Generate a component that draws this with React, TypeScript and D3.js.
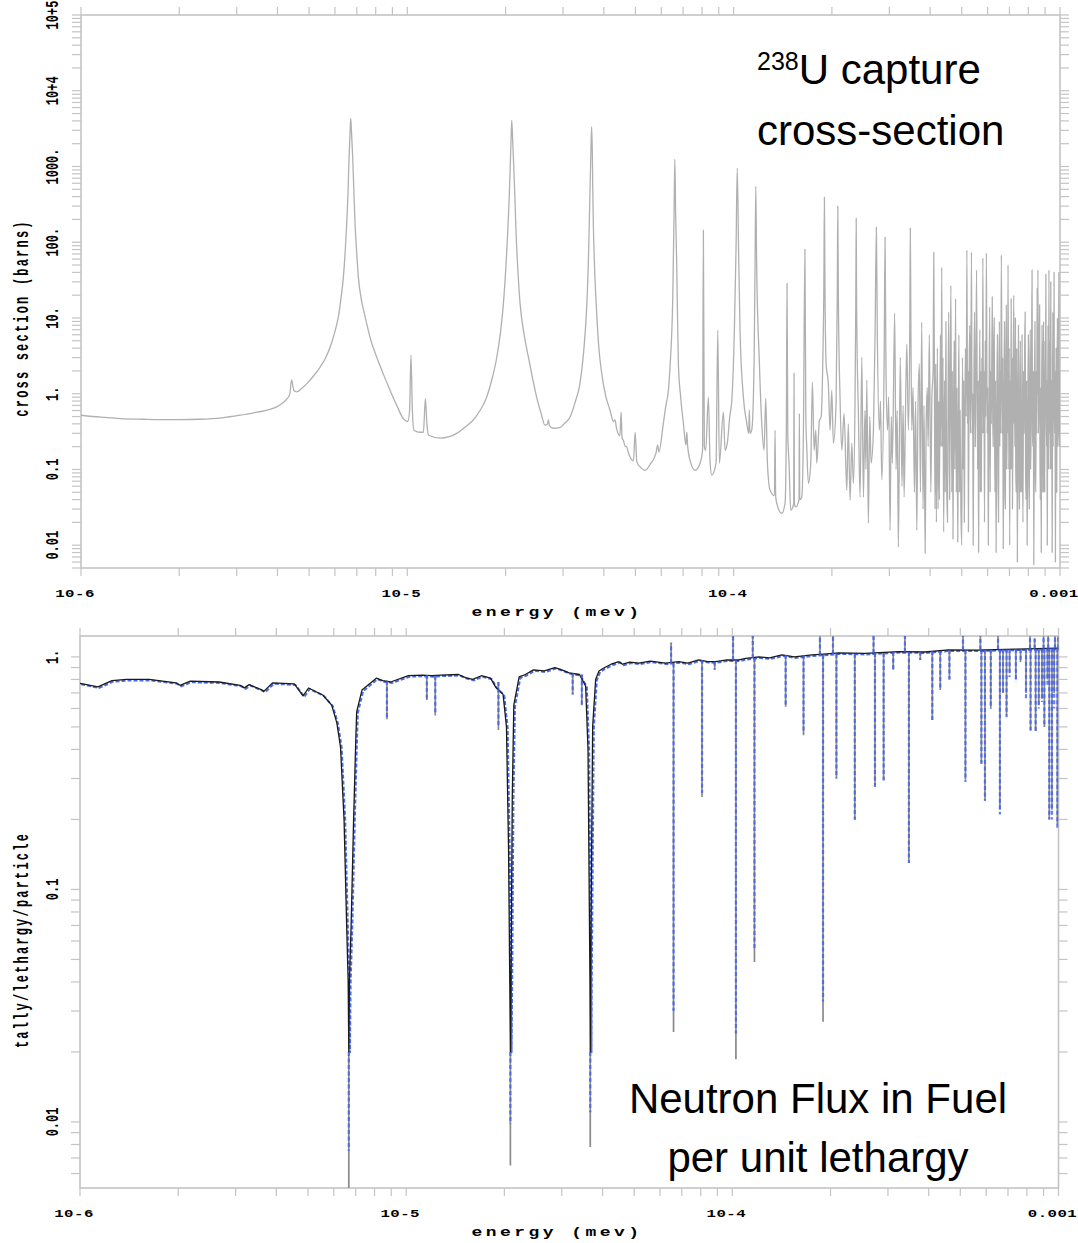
import * as d3 from "d3";
import React, { useEffect, useRef } from "react";

// U-238 capture cross-section, energy in eV (axis is in MeV), sigma in barns
const xsLow: [number, number][] = [
  [1.0, 0.52], [1.15, 0.49], [1.32, 0.47], [1.55, 0.46], [1.75, 0.455], [2.0, 0.455], [2.32, 0.46],
  [2.7, 0.48], [3.07, 0.52], [3.45, 0.57], [3.8, 0.62], [4.05, 0.7], [4.25, 0.83], [4.36, 0.98],
  [4.42, 1.52], [4.49, 1.1], [4.58, 1.06], [4.75, 1.18], [4.92, 1.36], [5.15, 1.7], [5.4, 2.23],
  [5.6, 2.9], [5.8, 4.1], [5.98, 6.3], [6.15, 10.5], [6.27, 19], [6.37, 34.9], [6.45, 75],
  [6.52, 177], [6.58, 450], [6.63, 1343], [6.68, 3000], [6.707, 4300], [6.74, 3000], [6.8, 1343],
  [6.86, 450], [6.915, 177], [7.0, 70], [7.077, 34.9], [7.22, 18], [7.42, 10.5], [7.72, 5.2],
  [8.06, 3.03], [8.45, 1.8], [8.85, 1.11], [9.28, 0.7], [9.72, 0.47], [10.03, 0.43], [10.16, 0.6],
  [10.26, 3.23], [10.36, 0.6], [10.48, 0.33], [10.94, 0.31], [11.2, 0.31], [11.36, 0.86],
  [11.48, 0.4], [11.63, 0.283], [12.6, 0.26], [14.17, 0.3], [15.0, 0.36], [15.9, 0.447],
  [16.7, 0.6], [17.5, 0.9], [18.2, 1.6], [18.8, 3.03], [19.3, 6.5], [19.7, 15.7], [20.05, 48],
  [20.3, 130], [20.5, 350], [20.64, 810], [20.77, 2000], [20.89, 4100], [21.05, 2000],
  [21.23, 810], [21.38, 350], [21.54, 130], [21.8, 45], [22.15, 15.7], [22.8, 6], [23.5, 3.03],
  [24.2, 1.6], [24.9, 0.9], [25.7, 0.55], [26.4, 0.384], [26.9, 0.4], [27.05, 0.45], [27.25, 0.38],
  [28.0, 0.35], [29.4, 0.36], [30.4, 0.41], [31.5, 0.49], [32.7, 0.78], [33.8, 1.36], [34.7, 3.6],
  [35.5, 15.7], [35.85, 50], [36.1, 177], [36.3, 520], [36.5, 1400], [36.7, 3350], [36.9, 1400],
  [37.0, 520], [37.15, 177], [37.45, 50], [37.9, 15.7], [38.6, 4.2], [39.4, 1.87], [40.5, 0.95],
  [41.8, 0.605], [42.8, 0.43], [43.3, 0.45], [43.7, 0.36], [44.8, 0.28], [45.2, 0.57], [45.5, 0.26],
  [45.9, 0.243], [46.6, 0.2], [47.0, 0.2], [47.5, 0.17], [49.3, 0.13], [49.9, 0.31], [50.5, 0.126],
  [52.0, 0.105], [53.5, 0.0976], [55.7, 0.12], [57.8, 0.164], [58.5, 0.21], [59.0, 0.17],
  [60.9, 0.41], [62.0, 0.7], [63.1, 1.11], [63.8, 2.2],
];

const xsMid: [number, number][] = [
  [65.07, 18.8], [65.66, 242], [66.03, 1252], [66.4, 242], [66.9, 53], [67.69, 2.53], [68.8, 0.9],
  [70.12, 0.41], [71.4, 0.21], [71.83, 0.31], [72.3, 0.2], [73.52, 0.132], [76.16, 0.0976],
  [78.9, 0.121], [80.3, 0.179], [80.75, 144], [81.3, 0.2], [82.1, 0.179], [83.65, 0.9],
  [84.7, 0.121], [85.7, 0.084], [88.3, 0.121], [89.4, 6.9], [90.4, 0.121], [92.98, 0.57],
  [94.1, 0.179], [95.6, 0.222], [97.3, 0.5], [98.7, 0.82], [100.5, 6.9], [101.7, 85],
  [102.56, 952], [103.5, 85], [104.6, 6.9], [107.1, 0.9], [109.7, 0.41], [111.2, 0.3],
  [111.7, 0.605], [112.2, 0.3], [113.6, 0.33], [115.5, 2.53], [116.3, 53], [116.9, 551],
  [117.6, 53], [119.9, 2.53], [121.9, 0.41], [123.9, 0.179], [125.4, 0.87], [126.9, 0.121],
  [129.3, 0.053], [133.3, 0.045], [133.9, 0.33], [134.5, 0.045], [135.5, 0.0358], [140.4, 0.0264],
  [143.7, 0.0358], [145.0, 0.33], [145.7, 28.8], [146.5, 0.3], [147.8, 0.121], [149.6, 0.0289],
  [152.7, 0.035], [153.1, 1.87], [153.5, 0.035], [155.0, 0.032], [158.6, 0.04], [159.0, 0.55],
  [159.4, 0.04], [161.7, 0.043], [163.6, 0.33], [165.3, 81], [166.4, 0.5], [167.5, 0.196],
  [169.4, 0.0657], [172.3, 0.121], [174.3, 1.42], [176.4, 0.179], [178.5, 0.33], [179.8, 0.121],
  [183.2, 0.447], [185.3, 0.49], [187.5, 2.53], [189.0, 30], [189.7, 394], [190.4, 30],
  [192.0, 2.53], [195.1, 1.31], [197.4, 0.33], [199.8, 1.11], [202.1, 0.222], [206.0, 0.75],
  [207.7, 20], [208.5, 300], [209.3, 20], [211.8, 0.9], [214.5, 0.179], [217.9, 0.55],
  [222.2, 0.053], [224.5, 0.4], [227.4, 0.0392], [230.1, 0.222], [232.8, 0.0657], [235.5, 0.9],
  [236.7, 15], [237.4, 208], [238.1, 15], [241.1, 0.55], [244.0, 0.043], [247.0, 3.03],
  [249.8, 0.043], [252.5, 0.6], [254.3, 0.1], [255.8, 1.51], [258.7, 0.0195], [261.2, 0.5],
  [263.7, 0.121], [268.1, 0.33], [271.3, 6.9], [273.7, 158], [275.5, 6.9], [279.6, 0.33],
  [281.8, 0.8], [284.4, 0.073], [289.1, 2.53], [291.0, 117], [292.8, 2.5], [296.0, 0.33],
  [298.5, 0.9], [301.5, 0.0157], [304.0, 0.5], [306.4, 0.121], [311.4, 11.6], [314.5, 0.1],
  [317.0, 0.6], [319.7, 0.0094], [324.0, 3.0], [328.0, 0.06], [330.5, 0.7], [332.9, 0.043],
  [336.0, 0.5], [339.2, 4.5], [343.1, 0.33], [346.5, 8], [347.8, 154], [349.2, 8], [351.4, 0.33],
  [354.5, 1.2], [358.0, 0.05], [361.0, 0.8], [364.0, 0.0157], [367.0, 0.6], [370.7, 2.5],
  [373.5, 0.05], [376.9, 8.8], [380.5, 0.03], [383.0, 0.7], [386.1, 0.0078], [389.0, 0.4],
  [392.0, 1.2], [394.5, 0.2], [397.6, 6], [402.0, 0.05], [405.0, 0.9], [408.5, 2], [410.3, 74],
  [412.2, 2],
];

const xsHigh: [number, number][] = [
  [414, 0.03], [416, 2.5], [418, 0.02], [421, 4], [423, 0.03], [425, 0.8], [427, 0.04], [430, 6],
  [432, 0.2], [434, 47], [436, 0.2], [438, 3], [440, 0.015], [443, 1.5], [445, 0.05], [447, 9],
  [449, 0.1], [452, 0.02], [454, 0.9], [456, 12], [459, 0.04], [461, 1.2], [463, 27], [466, 0.05],
  [468, 2], [470, 0.012], [472, 0.6], [474, 5], [476, 0.1], [478.6, 18], [481, 0.05], [483.5, 1.2],
  [486, 0.011], [488, 0.3], [490, 6], [492, 0.05], [494, 0.6], [497, 0.03], [500, 0.01],
  [502.5, 3], [505, 0.1], [507, 1.5], [509, 0.02], [511, 0.3], [513, 4], [516, 0.5], [518.4, 79],
  [521, 0.4], [522.5, 2], [524, 0.015], [526.5, 1.5], [529, 8], [532, 0.3], [535.4, 74],
  [538, 0.3], [540, 1], [542, 0.01], [544.5, 0.8], [547, 12], [550, 0.2], [552.5, 2], [555, 43],
  [559, 0.1], [561, 1.5], [563, 0.008], [565.5, 0.6], [568, 7], [570, 0.05], [572, 2], [574, 0.05],
  [576, 3], [578, 0.3], [580.2, 62], [583, 0.3], [585, 2], [587, 0.02], [590, 5], [592, 0.5],
  [595, 72], [598, 0.3], [600.5, 1.2], [603, 0.01], [606, 0.8], [609, 14], [611, 0.05], [613, 2],
  [616, 0.4], [620, 19], [622, 0.6], [624, 0.2], [626, 3], [628.5, 10], [630.5, 0.3], [632, 0.05],
  [634.5, 1.5], [637, 0.008], [640, 0.5], [643, 6], [645.5, 0.1], [648, 0.02], [650, 1], [652, 9],
  [654, 0.2], [656, 2], [658, 0.3], [661.2, 68], [665, 0.3], [667.5, 3], [670, 0.009], [673, 0.8],
  [676, 9], [678, 0.05], [680, 0.03], [682.5, 2], [685, 15], [687, 0.1], [689, 0.6], [691, 0.3],
  [693, 50], [697, 0.1], [699, 4], [701, 0.01], [704, 1.5], [706, 0.1], [708.4, 18], [710, 0.5],
  [712, 0.1], [713.5, 3], [715, 0.03], [718, 0.8], [721.7, 20], [723.5, 0.4], [725, 2],
  [727.5, 0.2], [730, 10], [732, 0.1], [734, 0.05], [737, 4], [740, 0.006], [743, 0.5], [746, 8],
  [748.5, 0.1], [751, 0.03], [753.5, 0.5], [756, 5], [758, 0.05], [760, 0.8], [762.5, 0.05],
  [765, 6], [767.5, 0.2], [770, 0.02], [773, 2], [776, 0.3], [779, 3], [782, 12], [784.5, 0.1],
  [787, 0.04], [790, 1.5], [793, 0.01], [796.5, 0.4], [800, 6], [802.5, 0.1], [805, 0.03],
  [808, 1.5], [811, 7], [813, 0.1], [815, 0.3], [818, 2], [821, 43], [823.5, 0.3], [826, 0.2],
  [828.5, 2], [831, 0.0055], [834.5, 0.6], [838, 9], [840.5, 0.1], [843, 0.05], [846, 2],
  [848.5, 0.3], [851, 25], [853, 1], [856, 43], [858, 0.3], [860, 0.5], [863, 2], [866, 15],
  [868, 0.2], [870, 0.04], [873, 1.2], [876, 0.008], [878.5, 0.8], [881, 8], [883.5, 0.3],
  [886, 0.05], [888.5, 2], [891, 9], [893.5, 0.05], [896, 0.3], [898, 0.05], [900, 5],
  [902.5, 0.5], [905, 38], [907.5, 0.5], [910, 0.2], [912, 1.5], [914, 0.01], [916.5, 0.5],
  [919, 8], [922, 0.1], [925, 43], [927.5, 0.3], [930, 5], [933.5, 0.1], [937, 30], [939, 0.5],
  [941, 0.1], [943.5, 1.5], [946, 0.008], [948.5, 0.5], [951, 12], [953, 0.2], [955, 3],
  [957, 0.5], [959, 40], [961, 0.8], [963, 0.3], [965.5, 2], [968, 0.006], [970.5, 0.5], [973, 4],
  [975, 0.1], [977, 0.05], [979.5, 1.5], [982, 10], [984.5, 0.2], [987, 0.4], [989.5, 3],
  [992, 40], [994, 0.5], [996, 0.2], [998, 2], [1000, 1],
];

// neutron flux per unit lethargy in the fuel (smooth part), energy in eV
const fluxLine: [number, number][] = [
  [1.0, 0.77], [1.135, 0.743], [1.253, 0.79], [1.388, 0.8], [1.63, 0.8], [1.97, 0.774],
  [2.025, 0.755], [2.18, 0.786], [2.67, 0.78], [3.1, 0.755], [3.19, 0.736], [3.3, 0.76],
  [3.61, 0.721], [3.66, 0.711], [3.9, 0.774], [4.54, 0.765], [4.83, 0.68], [5.02, 0.735],
  [5.55, 0.686], [5.91, 0.62], [6.13, 0.52], [6.29, 0.41], [6.45, 0.2], [6.57, 0.07],
  [6.64, 0.04], [6.67, 0.02], [6.7, 0.04], [6.78, 0.07], [6.9, 0.2], [7.0, 0.42], [7.05, 0.58],
  [7.32, 0.72], [8.1, 0.81], [8.48, 0.79], [8.96, 0.78], [10.16, 0.83], [11.24, 0.835],
  [11.97, 0.83], [12.75, 0.835], [14.47, 0.84], [15.2, 0.815], [16.0, 0.8], [17.0, 0.83],
  [18.14, 0.81], [18.83, 0.74], [19.82, 0.69], [20.3, 0.5], [20.6, 0.15], [20.78, 0.04],
  [20.87, 0.02], [20.96, 0.04], [21.15, 0.25], [21.38, 0.62], [22.2, 0.82], [23.2, 0.84],
  [24.55, 0.88], [26.5, 0.87], [28.56, 0.9], [30.0, 0.88], [31.6, 0.854], [34.0, 0.84],
  [35.5, 0.75], [36.1, 0.4], [36.45, 0.08], [36.6, 0.04], [36.68, 0.02], [36.76, 0.04],
  [36.95, 0.1], [37.3, 0.5], [38.1, 0.8], [39.0, 0.87], [40.6, 0.9], [42.5, 0.93], [44.9, 0.954],
  [46.1, 0.93], [48.5, 0.95], [51.7, 0.94], [56.0, 0.96], [62.4, 0.94], [68.5, 0.954],
  [73.0, 0.94], [78.9, 0.971], [84.0, 0.955], [88.8, 0.954], [96.3, 0.971], [104.6, 0.97],
  [110.0, 0.985], [120.5, 1.0], [130.0, 0.99], [142, 1.02], [155, 1.0], [175.5, 1.02],
  [195, 1.03], [211.9, 1.04], [255, 1.035], [323.6, 1.054], [390, 1.05], [460.5, 1.072],
  [560, 1.07], [737.3, 1.08], [860, 1.085], [1000, 1.09],
];

// narrow flux dips: energy (eV), level before dip, black minimum, blue minimum
const fluxDips: [number, number, number, number][] = [
  [6.67, 0.02, 0.004, 0.0075], [8.73, 0.79, 0.54, 0.55], [11.57, 0.835, 0.653, 0.66],
  [12.28, 0.83, 0.56, 0.57], [19.18, 0.78, 0.485, 0.5], [20.87, 0.02, 0.0065, 0.0098],
  [32.4, 0.85, 0.69, 0.69], [34.56, 0.84, 0.62, 0.62], [36.68, 0.02, 0.0078, 0.011],
  [66.03, 0.94, 0.0244, 0.03], [80.75, 0.97, 0.25, 0.26], [88.3, 0.954, 0.88, 0.88],
  [102.56, 0.97, 0.0186, 0.024], [116.9, 0.99, 0.0487, 0.055], [145.7, 1.02, 0.61, 0.62],
  [165.3, 1.02, 0.46, 0.47], [189.7, 1.02, 0.027, 0.033], [208.5, 1.03, 0.3, 0.3],
  [237.4, 1.03, 0.199, 0.2], [273.7, 1.04, 0.28, 0.27], [291, 1.04, 0.296, 0.29],
  [311.4, 1.05, 0.88, 0.88], [347.8, 1.05, 0.13, 0.13], [376.9, 1.055, 0.97, 0.97],
  [410.3, 1.06, 0.536, 0.53], [434, 1.06, 0.72, 0.72], [463, 1.07, 0.8, 0.8],
  [518.4, 1.07, 0.296, 0.29], [580.2, 1.075, 0.35, 0.34], [595, 1.075, 0.243, 0.24],
  [620, 1.075, 0.6, 0.6], [661.2, 1.08, 0.22, 0.21], [676, 1.08, 0.7, 0.7], [693, 1.08, 0.56, 0.55],
  [708, 1.08, 0.85, 0.82], [740, 1.08, 0.8, 0.78], [765, 1.08, 0.95, 0.95], [795, 1.085, 0.7, 0.66],
  [821, 1.085, 0.485, 0.48], [851, 1.085, 0.48, 0.47], [870, 1.085, 0.62, 0.6],
  [890, 1.085, 0.66, 0.64], [905, 1.085, 0.5, 0.5], [925, 1.09, 0.8, 0.75], [937, 1.09, 0.2, 0.2],
  [955, 1.09, 0.22, 0.2], [970, 1.09, 0.7, 0.6], [992, 1.09, 0.19, 0.18],
];

// flux overshoots just below resonances: energy (eV), level, top
const fluxPeaks: [number, number, number][] = [
  [64.9, 0.94, 1.15], [100.5, 0.97, 1.3], [115.5, 0.99, 1.3], [185.6, 1.02, 1.3],
  [203.5, 1.03, 1.3], [271, 1.04, 1.3], [338.2, 1.05, 1.3], [509.5, 1.07, 1.3], [576, 1.075, 1.3],
  [652.5, 1.08, 1.3], [817.8, 1.085, 1.3], [845, 1.085, 1.2], [900, 1.085, 1.3], [930, 1.09, 1.3],
  [975.7, 1.09, 1.3], [998, 1.09, 1.3],
];

const energyTicks = [1e-6, 1e-5, 1e-4, 1e-3];
const energyLabels = ["10-6", "10-5", "10-4", "0.001"];
const xsTicks = [0.01, 0.1, 1, 10, 100, 1000, 1e4, 1e5];
const xsLabels = ["0.01", "0.1", "1.", "10.", "100.", "1000.", "10+4", "10+5"];
const fluxTicks = [0.01, 0.1, 1];
const fluxLabels = ["0.01", "0.1", "1."];

const MONO = "'Liberation Mono', 'DejaVu Sans Mono', monospace";
const SANS = "'Liberation Sans', Arial, Helvetica, sans-serif";

export default function App() {
  const ref = useRef<SVGSVGElement>(null);

  useEffect(() => {
    const svg = d3.select(ref.current);
    svg.selectAll("*").remove();
    svg.append("rect").attr("width", 1078).attr("height", 1243).attr("fill", "#fff");

    const frameCol = "#c4c4c4";

    // draws frame, ticks and labels of one panel, returns its scales
    function panel(p: any) {
      const x = d3.scaleLog().domain([1e-6, 1e-3]).range([p.left, p.right]);
      const y = d3.scaleLog().domain(p.domain).range([p.bottom, p.top]);

      svg.append("clipPath").attr("id", p.id)
        .append("rect").attr("x", p.left).attr("y", p.top)
        .attr("width", p.right - p.left).attr("height", p.bottom - p.top);

      const g = svg.append("g");
      g.append("rect")
        .attr("x", p.left).attr("y", p.top)
        .attr("width", p.right - p.left).attr("height", p.bottom - p.top)
        .attr("fill", "none").attr("stroke", frameCol).attr("stroke-width", 1.6);

      const xt = x.ticks();
      const yt = y.ticks().filter((t) => t >= p.domain[0] && t <= p.domain[1]);
      const ticks = g.append("g").attr("stroke", frameCol).attr("stroke-width", 1.2);
      ticks.selectAll(".tt").data(xt).join("line")
        .attr("x1", (d) => x(d)).attr("x2", (d) => x(d)).attr("y1", p.top - 8).attr("y2", p.top);
      ticks.selectAll(".tb").data(xt).join("line")
        .attr("x1", (d) => x(d)).attr("x2", (d) => x(d)).attr("y1", p.bottom).attr("y2", p.bottom + 8);
      ticks.selectAll(".tl").data(yt).join("line")
        .attr("y1", (d) => y(d)).attr("y2", (d) => y(d)).attr("x1", p.left - 9).attr("x2", p.left);
      ticks.selectAll(".tr").data(yt).join("line")
        .attr("y1", (d) => y(d)).attr("y2", (d) => y(d)).attr("x1", p.right).attr("x2", p.right + 9);

      // energy tick labels (the plot is stretched horizontally)
      g.append("g").selectAll("text").data(energyTicks).join("text")
        .attr("transform", (d) => `translate(${x(d) - 6},${p.bottom + 29}) scale(1.5,1)`)
        .attr("text-anchor", "middle")
        .attr("font-family", MONO).attr("font-weight", "bold").attr("font-size", 10.5)
        .attr("letter-spacing", 0.3)
        .text((_, i) => energyLabels[i]);

      g.append("text")
        .attr("transform", `translate(557,${p.bottom + 48}) scale(1.5,1)`)
        .attr("text-anchor", "middle")
        .attr("font-family", MONO).attr("font-weight", "bold").attr("font-size", 12)
        .attr("letter-spacing", 2.3)
        .text("energy (mev)");

      g.append("g").selectAll("text").data(p.ticks).join("text")
        .attr("transform", (d: number) => `translate(53,${y(d)}) scale(1.6,1) rotate(-90)`)
        .attr("text-anchor", "middle").attr("dominant-baseline", "central")
        .attr("font-family", MONO).attr("font-weight", "bold").attr("font-size", 12)
        .text((_: number, i: number) => p.labels[i]);

      g.append("text")
        .attr("transform", `translate(22,${p.titleY}) scale(1.75,1) rotate(-90)`)
        .attr("text-anchor", "middle").attr("dominant-baseline", "central")
        .attr("font-family", MONO).attr("font-weight", "bold").attr("font-size", 12)
        .attr("letter-spacing", 2.2)
        .text(p.title);

      return { x, y };
    }

    // top: capture cross-section
    const top = panel({
      id: "clipTop", left: 81, right: 1060, top: 15, bottom: 568,
      domain: [0.005, 1e5], ticks: xsTicks, labels: xsLabels,
      title: "cross section (barns)", titleY: 318,
    });
    const xsData = [...xsLow, ...xsMid, ...xsHigh];
    const xsLine = d3.line<[number, number]>()
      .x((d) => top.x(d[0] * 1e-6))
      .y((d) => top.y(d[1]))
      .curve(d3.curveMonotoneX);
    svg.append("path")
      .attr("clip-path", "url(#clipTop)")
      .attr("d", xsLine(xsData))
      .attr("fill", "none").attr("stroke", "#b0b0b0").attr("stroke-width", 1.3)
      .attr("stroke-linejoin", "round");

    // bottom: flux per unit lethargy
    const bot = panel({
      id: "clipBot", left: 80, right: 1058.5, top: 636, bottom: 1188,
      domain: [0.0052, 1.23], ticks: fluxTicks, labels: fluxLabels,
      title: "tally/lethargy/particle", titleY: 940,
    });
    const fl = d3.line<[number, number]>()
      .x((d) => bot.x(d[0] * 1e-6))
      .y((d) => bot.y(d[1]));
    const gb = svg.append("g").attr("clip-path", "url(#clipBot)");

    // black (solid) tally: resonance dips show as grey lines
    gb.append("g").selectAll("line").data(fluxDips).join("line")
      .attr("x1", (d) => bot.x(d[0] * 1e-6)).attr("x2", (d) => bot.x(d[0] * 1e-6))
      .attr("y1", (d) => bot.y(d[1])).attr("y2", (d) => bot.y(d[2]))
      .attr("stroke", "#8a8a8a").attr("stroke-width", 1.7);
    gb.append("g").selectAll("line").data(fluxPeaks).join("line")
      .attr("x1", (d) => bot.x(d[0] * 1e-6)).attr("x2", (d) => bot.x(d[0] * 1e-6))
      .attr("y1", (d) => bot.y(d[1])).attr("y2", (d) => bot.y(d[2]))
      .attr("stroke", "#8a8a8a").attr("stroke-width", 1.7);

    // blue (dashed) tally, slightly offset under the black one
    gb.append("path")
      .attr("d", fl(fluxLine))
      .attr("transform", "translate(1.2,1)")
      .attr("fill", "none").attr("stroke", "#2f52e0").attr("stroke-width", 2)
      .attr("stroke-dasharray", "4 2").attr("opacity", 0.85);
    gb.append("path")
      .attr("d", fl(fluxLine))
      .attr("fill", "none").attr("stroke", "#1a1a1a").attr("stroke-width", 1.3)
      .attr("stroke-linejoin", "round");
    gb.append("g").selectAll("line").data(fluxDips).join("line")
      .attr("x1", (d) => bot.x(d[0] * 1e-6)).attr("x2", (d) => bot.x(d[0] * 1e-6))
      .attr("y1", (d) => bot.y(d[1])).attr("y2", (d) => bot.y(d[3]))
      .attr("stroke", "#4262f0").attr("stroke-width", 2.2)
      .attr("stroke-dasharray", "4 2.5").attr("opacity", 0.8);
    gb.append("g").selectAll("line").data(fluxPeaks).join("line")
      .attr("x1", (d) => bot.x(d[0] * 1e-6)).attr("x2", (d) => bot.x(d[0] * 1e-6))
      .attr("y1", (d) => bot.y(d[1])).attr("y2", (d) => bot.y(d[2]))
      .attr("stroke", "#4262f0").attr("stroke-width", 2.2)
      .attr("stroke-dasharray", "4 2.5").attr("opacity", 0.8);

    // annotations
    const t1 = svg.append("text").attr("x", 757).attr("y", 84)
      .attr("font-family", SANS).attr("font-size", 42).attr("fill", "#000");
    t1.append("tspan").attr("font-size", 25).attr("dy", -14).text("238");
    t1.append("tspan").attr("dy", 14).text("U capture");
    svg.append("text").attr("x", 757).attr("y", 145)
      .attr("font-family", SANS).attr("font-size", 42).text("cross-section");
    svg.append("text").attr("x", 818).attr("y", 1113).attr("text-anchor", "middle")
      .attr("font-family", SANS).attr("font-size", 42).text("Neutron Flux in Fuel");
    svg.append("text").attr("x", 818).attr("y", 1172).attr("text-anchor", "middle")
      .attr("font-family", SANS).attr("font-size", 42).text("per unit lethargy");
  }, []);

  return (
    <svg
      ref={ref}
      width={1078}
      height={1243}
      style={{ position: "absolute", left: 0, top: 0, display: "block" }}
    />
  );
}
